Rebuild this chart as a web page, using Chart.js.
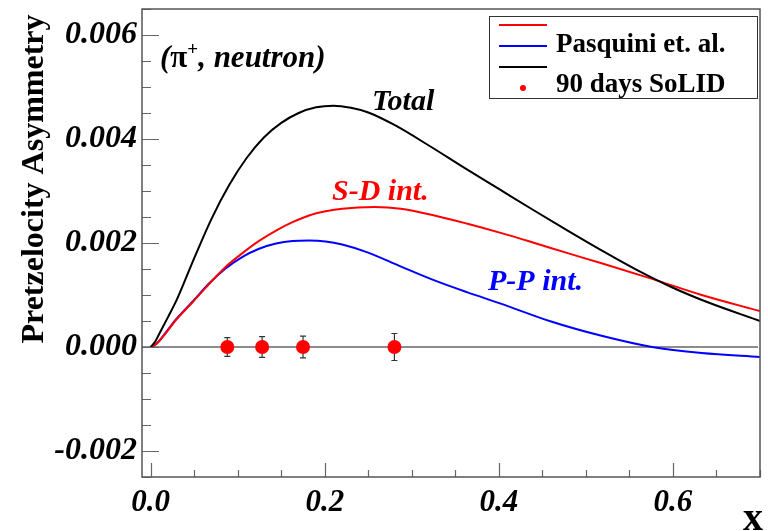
<!DOCTYPE html>
<html>
<head>
<meta charset="utf-8">
<script src="https://cdn.jsdelivr.net/npm/chart.js@4.4.1/dist/chart.umd.min.js"></script>
<style>
  html, body { margin: 0; padding: 0; background: #fff; }
  canvas { display: block; }
</style>
</head>
<body>
<canvas id="asym" width="768" height="531"></canvas>
<script>
// model curves (x, asymmetry)
const totalX = [0, 0.005, 0.01, 0.02, 0.03, 0.05, 0.07, 0.09, 0.11, 0.13, 0.15, 0.17, 0.19, 0.21, 0.23, 0.25, 0.28, 0.32, 0.36, 0.40, 0.44, 0.48, 0.52, 0.56, 0.60, 0.64, 0.70];
const totalY = [0, 0.0001, 0.00026, 0.00058, 0.00091, 0.00171, 0.00247, 0.00311, 0.00363, 0.00403, 0.00431, 0.0045, 0.00461, 0.00464, 0.0046, 0.00451, 0.00427, 0.00387, 0.00345, 0.00304, 0.00263, 0.00223, 0.00184, 0.00147, 0.00114, 0.00086, 0.0005];

const sdX = [0, 0.005, 0.01, 0.018, 0.028, 0.048, 0.067, 0.086, 0.105, 0.1245, 0.144, 0.163, 0.182, 0.201, 0.22, 0.257, 0.287, 0.326, 0.364, 0.403, 0.441, 0.48, 0.518, 0.576, 0.633, 0.70];
const sdY = [0, 0.00004, 0.00012, 0.00028, 0.0005, 0.00086, 0.00121, 0.00154, 0.0018, 0.00204, 0.00224, 0.0024, 0.00253, 0.00261, 0.00266, 0.00269, 0.00266, 0.00253, 0.00237, 0.00219, 0.002, 0.0018, 0.00161, 0.00131, 0.001, 0.00069];

const ppX = [0, 0.005, 0.01, 0.018, 0.028, 0.048, 0.067, 0.086, 0.105, 0.1245, 0.144, 0.163, 0.182, 0.201, 0.22, 0.249, 0.287, 0.326, 0.364, 0.403, 0.46, 0.518, 0.576, 0.633, 0.70];
const ppY = [0, 0.00004, 0.00012, 0.00029, 0.00051, 0.00087, 0.00122, 0.00151, 0.00173, 0.00189, 0.00199, 0.00204, 0.00205, 0.00203, 0.00197, 0.00182, 0.00155, 0.00128, 0.00105, 0.00083, 0.00049, 0.000215, 0.0, -0.000115, -0.00019];

// projected SoLID points
const solidX = [0.088, 0.128, 0.175, 0.28];
const solidY = [0, 0, 0, 0];
const solidErr = [0.00018, 0.0002, 0.00021, 0.00026];

// axis ticks
const xMajor = [0, 0.2, 0.4, 0.6];
const xMinorStep = 0.05;
const yMajor = [-0.002, 0, 0.002, 0.004, 0.006];
const yMinorStep = 0.0005;

const SERIF = '"Liberation Serif", "DejaVu Serif", serif';

function pts(xs, ys) {
  return xs.map((x, i) => ({ x: x, y: ys[i] }));
}

const rootFrame = {
  id: 'rootFrame',
  beforeDatasetsDraw(chart) {
    const { ctx, chartArea: a, scales: { x, y } } = chart;
    ctx.save();
    // zero line
    ctx.strokeStyle = '#666';
    ctx.lineWidth = 1.5;
    const y0 = y.getPixelForValue(0);
    ctx.beginPath();
    ctx.moveTo(a.left, y0);
    ctx.lineTo(a.right - 2, y0);
    ctx.stroke();
    // error bars
    ctx.strokeStyle = '#333';
    ctx.lineWidth = 1.2;
    solidX.forEach((v, i) => {
      const px = x.getPixelForValue(v);
      const hi = y.getPixelForValue(solidY[i] + solidErr[i]);
      const lo = y.getPixelForValue(solidY[i] - solidErr[i]);
      ctx.beginPath();
      ctx.moveTo(px, hi); ctx.lineTo(px, lo);
      ctx.moveTo(px - 3, hi); ctx.lineTo(px + 3, hi);
      ctx.moveTo(px - 3, lo); ctx.lineTo(px + 3, lo);
      ctx.stroke();
    });
    ctx.restore();
  },
  afterDraw(chart) {
    const { ctx, chartArea: a, scales: { x, y } } = chart;
    ctx.save();

    // ticks pointing into the frame
    ctx.strokeStyle = '#666';
    ctx.lineWidth = 1.2;
    ctx.beginPath();
    for (let k = 0; k <= 14; k++) {
      const v = k * xMinorStep;
      const px = Math.round(x.getPixelForValue(v)) + 0.5;
      const major = xMajor.some(m => Math.abs(m - v) < 1e-9);
      ctx.moveTo(px, a.bottom);
      ctx.lineTo(px, a.bottom - (major ? 14 : 7));
    }
    for (let k = -5; k <= 13; k++) {
      const v = k * yMinorStep;
      const py = Math.round(y.getPixelForValue(v)) + 0.5;
      const major = yMajor.some(m => Math.abs(m - v) < 1e-9);
      ctx.moveTo(a.left, py);
      ctx.lineTo(a.left + (major ? 17 : 9), py);
    }
    ctx.stroke();

    // frame
    ctx.strokeStyle = '#555';
    ctx.lineWidth = 1.5;
    ctx.strokeRect(a.left, a.top, a.right - a.left, a.bottom - a.top);

    // axis titles
    ctx.fillStyle = '#000';
    ctx.font = 'bold 32px ' + SERIF;
    ctx.textAlign = 'center';
    ctx.textBaseline = 'alphabetic';
    ctx.save();
    ctx.translate(43, 179);
    ctx.rotate(-Math.PI / 2);
    ctx.fillText('Pretzelocity Asymmetry', 0, 0);
    ctx.restore();
    ctx.font = 'bold 40px ' + SERIF;
    ctx.textAlign = 'right';
    ctx.fillText('x', 763, 530);

    // reaction label
    ctx.textAlign = 'left';
    let tx = 160;
    const ty = 67;
    ctx.font = 'italic bold 31px ' + SERIF;
    ctx.fillText('(', tx, ty); tx += ctx.measureText('(').width;
    ctx.font = 'bold 31px ' + SERIF;
    ctx.fillText('\u03c0', tx, ty); tx += ctx.measureText('\u03c0').width;
    ctx.font = 'bold 19px ' + SERIF;
    ctx.fillText('+', tx, ty - 12); tx += ctx.measureText('+').width;
    ctx.font = 'italic bold 31px ' + SERIF;
    ctx.fillText(', neutron)', tx, ty);

    // curve labels
    ctx.font = 'italic bold 30px ' + SERIF;
    ctx.fillStyle = '#000';
    ctx.fillText('Total', 372, 110);
    ctx.fillStyle = '#ff0000';
    ctx.fillText('S-D int.', 332, 200);
    ctx.fillStyle = '#0000ff';
    ctx.fillText('P-P int.', 488, 290);

    // legend
    ctx.fillStyle = '#fff';
    ctx.fillRect(489, 16, 268, 82);
    ctx.strokeStyle = '#333';
    ctx.lineWidth = 1;
    ctx.strokeRect(489.5, 16.5, 268, 82);
    ctx.lineWidth = 2;
    [['#ff0000', 25], ['#0000ff', 46], ['#000000', 67]].forEach(([c, ly]) => {
      ctx.strokeStyle = c;
      ctx.beginPath();
      ctx.moveTo(499, ly); ctx.lineTo(547, ly);
      ctx.stroke();
    });
    ctx.fillStyle = '#ff0000';
    ctx.beginPath();
    ctx.arc(523, 88, 3, 0, Math.PI * 2);
    ctx.fill();
    ctx.fillStyle = '#000';
    ctx.font = 'bold 27px ' + SERIF;
    ctx.fillText('Pasquini et. al.', 556, 52);
    ctx.fillText('90 days SoLID', 556, 92);

    ctx.restore();
  }
};

const lineStyle = { showLine: true, pointRadius: 0, borderWidth: 2, cubicInterpolationMode: 'monotone', fill: false };

new Chart(document.getElementById('asym'), {
  type: 'scatter',
  data: {
    datasets: [
      Object.assign({ label: 'Total', data: pts(totalX, totalY), borderColor: '#000000' }, lineStyle),
      Object.assign({ label: 'S-D int.', data: pts(sdX, sdY), borderColor: '#ff0000' }, lineStyle),
      Object.assign({ label: 'P-P int.', data: pts(ppX, ppY), borderColor: '#0000ff' }, lineStyle),
      {
        label: '90 days SoLID',
        data: pts(solidX, solidY),
        pointRadius: 7,
        pointBackgroundColor: '#ff0000',
        pointBorderColor: '#ff0000',
        pointBorderWidth: 0,
        showLine: false
      }
    ]
  },
  options: {
    responsive: false,
    animation: false,
    devicePixelRatio: 1,
    layout: { padding: { top: 9, right: 8, left: 0, bottom: 0 } },
    plugins: { legend: { display: false }, tooltip: { enabled: false } },
    scales: {
      x: {
        type: 'linear',
        min: -0.01,
        max: 0.7,
        grid: { display: false },
        border: { display: false },
        afterBuildTicks: s => { s.ticks = xMajor.map(v => ({ value: v })); },
        afterFit: s => { s.height = 54; s.paddingLeft = 0; s.paddingRight = 0; },
        ticks: {
          color: '#000',
          padding: -1,
          maxRotation: 0,
          font: { family: SERIF, size: 31, style: 'italic', weight: 'bold' },
          callback: v => v.toFixed(1)
        }
      },
      y: {
        type: 'linear',
        min: -0.0025,
        max: 0.0065,
        grid: { display: false },
        border: { display: false },
        afterBuildTicks: s => { s.ticks = yMajor.map(v => ({ value: v })); },
        afterFit: s => { s.width = 142; s.paddingTop = 0; s.paddingBottom = 0; },
        ticks: {
          color: '#000',
          padding: -3,
          font: { family: SERIF, size: 32, style: 'italic', weight: 'bold' },
          callback: v => v.toFixed(3)
        }
      }
    }
  },
  plugins: [rootFrame]
});
</script>
</body>
</html>
